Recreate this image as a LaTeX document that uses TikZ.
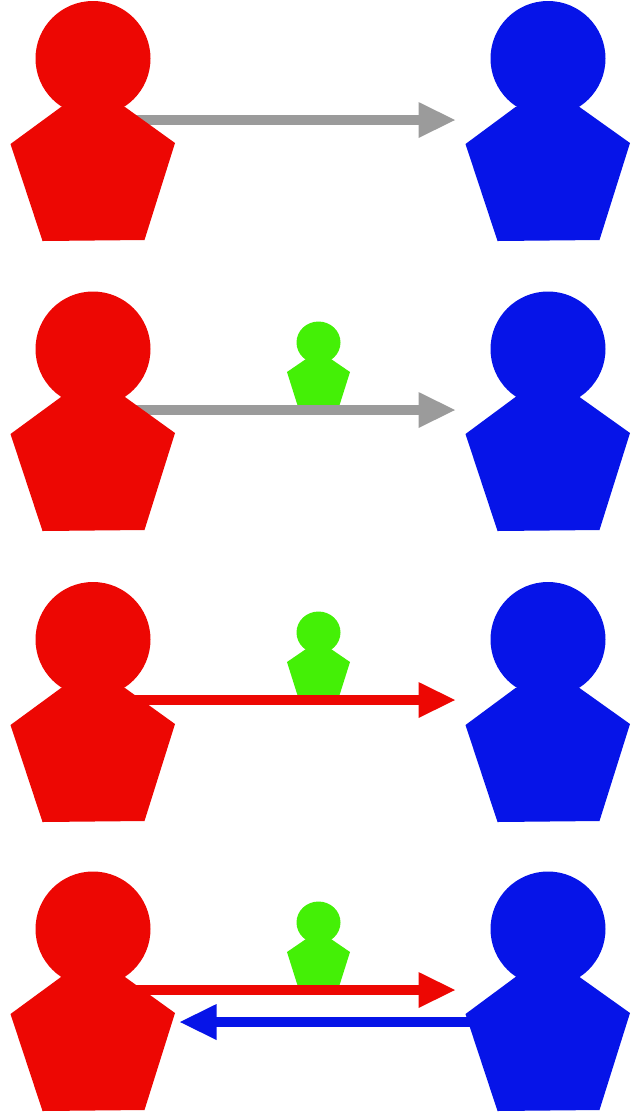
\documentclass[tikz,border=0pt]{standalone}
\usepackage{amsmath}
\usepackage{amssymb}
\usepackage{tikz}
\definecolor{redman}{RGB}{237,7,3}
\definecolor{blueman}{RGB}{6,20,232}
\definecolor{greenman}{RGB}{68,240,6}
\definecolor{grayline}{RGB}{155,155,155}
\begin{document}
\begin{tikzpicture}[scale=0.2]
\tikzstyle{redfill}=[fill=redman]
\tikzstyle{bluefill}=[fill=blueman]
\tikzstyle{greenfill}=[fill=greenman]
\tikzstyle{grayfill}=[fill=grayline]
\tikzstyle{wire}=[line width=5.5pt]
\useasboundingbox (0,0) rectangle (63.9,-111.2);
\coordinate (r1) at (13.5,-12);
\coordinate (r2) at (13.5,-41);
\coordinate (r3) at (13.5,-70);
\coordinate (r4) at (13.5,-99);
\coordinate (h1) at (41.9,-12);
\coordinate (h2) at (41.9,-41);
\coordinate (h3) at (41.9,-70);
\coordinate (h4) at (41.9,-99);
\coordinate (b4) at (47,-102.2);
\coordinate (k4) at (21.6,-102.2);
\fill [greenfill] (31.85,-34.25) ellipse (2.2 and 2.1);
\fill [greenfill] (28.7,-37.2) -- (30.6,-35.9) -- (33.1,-35.9) -- (35,-37.2) -- (33.8,-41) -- (29.9,-41) -- cycle;
\fill [greenfill] (31.85,-63.25) ellipse (2.2 and 2.1);
\fill [greenfill] (28.7,-66.2) -- (30.6,-64.9) -- (33.1,-64.9) -- (35,-66.2) -- (33.8,-70) -- (29.9,-70) -- cycle;
\fill [greenfill] (31.85,-92.25) ellipse (2.2 and 2.1);
\fill [greenfill] (28.7,-95.2) -- (30.6,-93.9) -- (33.1,-93.9) -- (35,-95.2) -- (33.8,-99) -- (29.9,-99) -- cycle;
\draw [wire,grayline] (r1) -- (h1);
\fill [grayfill] (45.5,-12) -- (41.85,-10.2) -- (41.85,-13.8);
\draw [wire,grayline] (r2) -- (h2);
\fill [grayfill] (45.5,-41) -- (41.85,-39.2) -- (41.85,-42.8);
\draw [wire,redman] (r3) -- (h3);
\fill [redfill] (45.5,-70) -- (41.85,-68.2) -- (41.85,-71.8);
\draw [wire,redman] (r4) -- (h4);
\fill [redfill] (45.5,-99) -- (41.85,-97.2) -- (41.85,-100.8);
\draw [wire,blueman] (b4) -- (k4);
\fill [bluefill] (18,-102.2) -- (21.65,-100.4) -- (21.65,-104);
\fill [redfill] (9.3,-5.85) circle (5.75);
\fill [redfill] (1.05,-14.4) -- (6.1,-10.7) -- (12.5,-10.7) -- (17.5,-14.3) -- (14.45,-24) -- (4.25,-24.1) -- cycle;
\fill [redfill] (9.3,-34.9) circle (5.75);
\fill [redfill] (1.05,-43.4) -- (6.1,-39.7) -- (12.5,-39.7) -- (17.5,-43.3) -- (14.45,-53) -- (4.25,-53.1) -- cycle;
\fill [redfill] (9.3,-63.95) circle (5.75);
\fill [redfill] (1.05,-72.5) -- (6.1,-68.8) -- (12.5,-68.8) -- (17.5,-72.4) -- (14.45,-82.1) -- (4.25,-82.2) -- cycle;
\fill [redfill] (9.3,-92.9) circle (5.75);
\fill [redfill] (1.05,-101.4) -- (6.1,-97.7) -- (12.5,-97.7) -- (17.5,-101.3) -- (14.45,-111) -- (4.25,-111.1) -- cycle;
\fill [bluefill] (54.8,-5.85) circle (5.75);
\fill [bluefill] (46.55,-14.4) -- (51.55,-10.7) -- (57.95,-10.7) -- (63,-14.3) -- (59.95,-24) -- (49.75,-24.1) -- cycle;
\fill [bluefill] (54.8,-34.9) circle (5.75);
\fill [bluefill] (46.55,-43.4) -- (51.55,-39.7) -- (57.95,-39.7) -- (63,-43.3) -- (59.95,-53) -- (49.75,-53.1) -- cycle;
\fill [bluefill] (54.8,-63.95) circle (5.75);
\fill [bluefill] (46.55,-72.5) -- (51.55,-68.8) -- (57.95,-68.8) -- (63,-72.4) -- (59.95,-82.1) -- (49.75,-82.2) -- cycle;
\fill [bluefill] (54.8,-92.9) circle (5.75);
\fill [bluefill] (46.55,-101.4) -- (51.55,-97.7) -- (57.95,-97.7) -- (63,-101.3) -- (59.95,-111) -- (49.75,-111.1) -- cycle;
\end{tikzpicture}
\end{document}
